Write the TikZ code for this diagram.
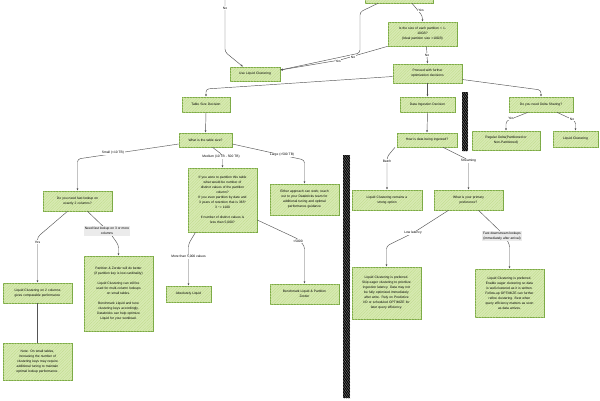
\documentclass[tikz,border=0pt]{standalone}
\usepackage{fontspec}
\setmainfont{Liberation Sans}
\usetikzlibrary{arrows.meta,patterns.meta}

\definecolor{boxfill}{HTML}{D7EAB2}
\definecolor{boxline}{HTML}{7BAA45}
\definecolor{hatch}{HTML}{BFDA8A}
\definecolor{conncol}{HTML}{555555}
\newcommand{\boxfont}{\fontsize{3.3}{5.0}\selectfont}

\tikzset{
  box/.style={draw=boxline, fill=boxfill, line width=0.6pt, align=center,
    font=\boxfont, inner xsep=1.5pt, inner ysep=1pt,
    postaction={pattern={Lines[angle=45,distance=2pt,line width=0.3pt]}, pattern color=hatch}},
  sz/.style 2 args={text width=#1pt, minimum height=#2pt},
  conn/.style={draw=conncol, line width=0.45pt, rounded corners=3pt,
    -{Latex[length=2.4pt,width=2pt]}},
  lbl/.style={fill=white, inner sep=0.5pt, font=\boxfont},
  glbl/.style={fill=black!8, inner sep=1pt, font=\boxfont, align=center},
  bar/.style={fill=black, postaction={pattern={Lines[angle=60,distance=1.6pt,line width=0.35pt]}, pattern color=black!45}},
}

\begin{document}
\begin{tikzpicture}[x=1pt, y=-1pt]

        \pgfmathsetmacro{\W}{600}
        \pgfmathsetmacro{\H}{400}

        \useasboundingbox (0,0) rectangle (\W,\H);
        \clip (0,0) rectangle (\W,\H);
        \fill[white] (0,0) rectangle (\W,\H);

        % 1. 区切りバー
        \fill[bar] (462,92) rectangle (468,151);
        \fill[bar] (343,155) rectangle (350,398);

        % 2. ノード（上段）
        \node[box, sz={65}{24}] (topq) at (399,-9) {};
        \coordinate (offno) at (225,-10);
        \node[box, sz={66}{24}] (issize) at (422.5,34)
            {Is the size of each partition < 1-\\10GB?\\(Ideal partition size >10GB)};
        \node[box, sz={47}{14}] (useliq) at (255,74) {Use Liquid Clustering};
        \node[box, sz={66}{19}] (proceed) at (427.5,73.5) {Proceed with further\\optimization decisions};
        \node[box, sz={45}{15}] (tsize) at (206,104.5) {Table Size Decision};
        \node[box, sz={52}{15}] (ingest) at (427.5,104.5) {Data Ingestion Decision};
        \node[box, sz={61}{15}] (sharing) at (541,104.5) {Do you need Delta Sharing?};
        \node[box, sz={50}{14}] (whatsize) at (205.5,140) {What is the table size?};
        \node[box, sz={57}{14}] (howingest) at (427,140) {How is data being ingested?};
        \node[box, sz={65}{19}] (regdelta) at (506,140.5) {Regular Delta(Partitioned or\\Non-Partitioned)};
        \node[box, sz={42}{16}] (liqshare) at (575.5,139) {Liquid Clustering};

        % 3. ノード（中段）
        \node[box, sz={66}{20}] (fast2) at (77.5,201) {Do you need fast lookup on\\exactly 2 columns?};
        \node[box, sz={66}{64}] (medium) at (222.5,200)
            {If you were to partition this table\\what would be number of\\distinct values of the partition\\column?\\
             If you even partition by date and\\3 years of retention that is 365*\\3 \textasciitilde= 1100\\[5pt]
             If number of distinct values is\\less than 5,000?};
        \node[box, sz={66}{31}] (either) at (304.5,199.5)
            {Either approach can work; reach\\out to your Databricks team for\\additional tuning and optimal\\performance guidance};
        \node[box, sz={67}{20}] (liqremain) at (387,200) {Liquid Clustering remains a\\strong option};
        \node[box, sz={66}{20}] (primary) at (468.5,200) {What is your primary\\preference?};

        % 4. ノード（下段）
        \node[box, sz={66}{20}] (liq2col) at (37.5,293) {Liquid Clustering on 2 columns\\gives comparable performance};
        \node[box, sz={66}{75}] (partz) at (118.5,293.5)
            {Partition \& Zorder will do better\\(if partition key is low cardinality)\\[5pt]
             Liquid Clustering can still be\\used for multi-column lookups\\on small tables.\\[5pt]
             Benchmark Liquid and tune\\clustering keys accordingly.\\Databricks can help optimize\\Liquid for your workload.};
        \node[box, sz={42}{16}] (absliq) at (188.5,294) {Absolutely Liquid};
        \node[box, sz={66}{20}] (benchpz) at (304.5,294) {Benchmark Liquid \& Partition\\Zorder};
        \node[box, sz={66}{52}] (lowlat) at (386.5,293)
            {Liquid Clustering is preferred.\\Skip eager clustering to prioritize\\ingestion latency. Data may not\\be fully optimized immediately\\
             after write. Rely on Predictive\\I/O or scheduled OPTIMIZE for\\later query efficiency.};
        \node[box, sz={66}{48}] (fastdown) at (509.5,293)
            {Liquid Clustering is preferred.\\Enable eager clustering so data\\is well-clustered as it is written.\\
             Follow-up OPTIMIZE can further\\refine clustering. Best when\\query efficiency matters as soon\\as data arrives.};
        \node[box, sz={66}{37}] (note) at (37.5,361.5)
            {Note: On small tables,\\increasing the number of\\clustering keys may require\\additional tuning to maintain\\optimal lookup performance.};

        % 5. 接続線
        \draw[conn] ([xshift=13pt]topq.south) -- (422.5,16) -- (issize.north);
        \draw[conn] ([xshift=-21pt]topq.south) -- (360,12) -- (360,53) -- ([yshift=4pt]useliq.east);
        \draw[conn] (issize.south west) -- (340,60) -- ([yshift=4pt]useliq.east);
        \draw[conn] (offno) -- (225,52) -- ([xshift=-12pt]useliq.north);
        \draw[conn] ([xshift=4pt]issize.south) -- (proceed.north);
        \draw[conn] ([yshift=-3pt]proceed.west) -- (206,89) -- (tsize.north);
        \draw[conn] (proceed.south) -- (ingest.north);
        \draw[conn] ([yshift=-6pt]proceed.east) -- (541,90) -- (sharing.north);
        \draw[conn] (tsize.south) -- (whatsize.north);
        \draw[conn] (ingest.south) -- (howingest.north);
        \draw[conn] ([xshift=-13pt]sharing.south) -- (506,121) -- (regdelta.north);
        \draw[conn] ([xshift=16pt]sharing.south) -- (575.5,121) -- (liqshare.north);
        \draw[conn] ([yshift=-4pt]whatsize.west) -- (77.5,159) -- (fast2.north);
        \draw[conn] ([xshift=7pt]whatsize.south) -- (222.5,155) -- (medium.north);
        \draw[conn] ([yshift=-4pt]whatsize.east) -- (304.5,160) -- (either.north);
        \draw[conn] ([xshift=-32pt]howingest.south) -- (387,157) -- (liqremain.north);
        \draw[conn] ([xshift=16pt]howingest.south) -- (468.5,160) -- (primary.north);
        \draw[conn] ([xshift=-10pt]fast2.south) -- (37.5,237) -- (liq2col.north);
        \draw[conn] ([xshift=10pt]fast2.south) -- (110,233) -- (118.5,245) -- (partz.north);
        \draw[conn, arrows=-] (liq2col.south) -- (note.north);
        \draw[conn] ([xshift=-27pt]medium.south) -- (188.5,244) -- (absliq.north);
        \draw[conn] ([yshift=-20pt]medium.east) -- (298,239) -- (304.5,246) -- (benchpz.north);
        \draw[conn] ([xshift=-20pt]primary.south) -- (413,233) -- (386.5,246) -- (lowlat.north);
        \draw[conn] ([xshift=10pt]primary.south) -- (502,233) -- (509.5,244) -- (fastdown.north);

        % 6. ラベル
        \node[lbl] (lno0) at (225,8) {No};
        \node[lbl] (lyes1) at (421,10) {Yes};
        \node[lbl] (lno1) at (353,57) {No};
        \node[lbl] (lyes2) at (338,61) {Yes};
        \node[lbl] (lno2) at (427,55) {No};
        \node[lbl] (lyes3) at (511,118) {Yes};
        \node[lbl] (lno3) at (572,119) {No};
        \node[lbl] (lsmall) at (113,153) {Small (<10 TB)};
        \node[lbl] (lmed) at (221,157) {Medium (10 TB - 500 TB)};
        \node[lbl] (llarge) at (282,155) {Large (>500 TB)};
        \node[lbl] (lbatch) at (387,161) {Batch};
        \node[lbl] (lstream) at (468.5,161) {Streaming};
        \node[lbl] (lyes4) at (37.5,242) {Yes};
        \node[glbl] (lneed) at (107,231) {Need fast lookup on 3 or more\\columns};
        \node[lbl] (lmore) at (188.5,257) {More than 5,000 values};
        \node[lbl] (lless) at (298,241) {<5000};
        \node[lbl] (llow) at (413,233) {Low latency};
        \node[glbl] (lfast) at (502,236) {Fast downstream lookups\\(immediately after arrival)};
    \end{tikzpicture}
\end{document}
